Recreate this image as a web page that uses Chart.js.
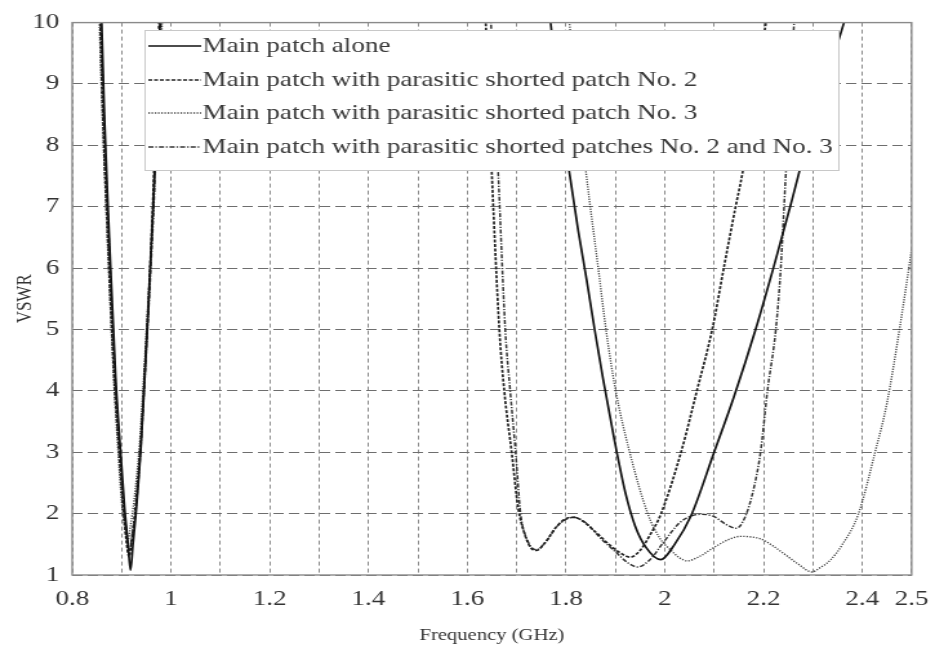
<!DOCTYPE html>
<html>
<head>
<meta charset="utf-8">
<script src="https://cdn.jsdelivr.net/npm/chart.js@4.4.1/dist/chart.umd.min.js"></script>
<style>
  html, body { margin: 0; padding: 0; background: #fff; }
</style>
</head>
<body>
<!-- drawn 732 wide and shown stretched to 944, like the printed figure -->
<canvas id="canvas" width="732" height="653" style="display:block;width:944px;height:653px"></canvas>
<script>
// VSWR vs frequency, four antenna configurations (null splits the two bands)
const freqAlone = [0.858, 0.865, 0.875, 0.888, 0.898, 0.906, 0.913, 0.918, 0.923, 0.930, 0.940, 0.952, 0.965, 0.980, null,
  1.762, 1.790, 1.808, 1.825, 1.842, 1.858, 1.875, 1.898, 1.920, 1.940, 1.962, 1.992, 2.020, 2.053, 2.100, 2.140, 2.184,
  2.220, 2.254, 2.300, 2.363, 2.380];
const vswrAlone = [10.5, 8.5, 6.5, 4.2, 3.0, 2.1, 1.5, 1.08, 1.5, 2.1, 3.2, 5.0, 7.2, 10.5, null,
  10.5, 8.5, 7.5, 6.6, 5.8, 5.0, 4.2, 3.2, 2.35, 1.8, 1.45, 1.25, 1.5, 1.96, 3.0, 3.9, 5.0,
  6.0, 7.0, 8.4, 10.0, 10.5];

const freqNo2 = [0.855, 0.862, 0.872, 0.885, 0.895, 0.903, 0.909, 0.915, 0.921, 0.928, 0.938, 0.950, 0.962, 0.978, null,
  1.635, 1.650, 1.665, 1.675, 1.690, 1.703, 1.715, 1.728, 1.740, 1.755, 1.780, 1.800, 1.815, 1.830, 1.860, 1.890, 1.912, 1.930,
  1.950, 1.970, 1.992, 2.033, 2.066, 2.097, 2.120, 2.144, 2.157, 2.180, 2.205, 2.215];
const vswrNo2 = [10.5, 8.5, 6.5, 4.2, 3.0, 2.1, 1.6, 1.3, 1.6, 2.1, 3.1, 4.8, 6.8, 10.5, null,
  10.5, 7.5, 5.0, 4.0, 3.0, 2.1, 1.7, 1.45, 1.40, 1.5, 1.78, 1.92, 1.94, 1.9, 1.7, 1.48, 1.35, 1.29,
  1.4, 1.65, 1.99, 3.0, 4.03, 5.03, 6.02, 7.02, 7.53, 8.7, 10.0, 10.5];

const freqNo3 = [0.853, 0.861, 0.871, 0.884, 0.893, 0.900, 0.906, 0.912, 0.918, 0.925, 0.936, 0.949, 0.963, 0.985, null,
  1.800, 1.841, 1.865, 1.881, 1.900, 1.929, 1.966, 1.990, 2.013, 2.030, 2.046, 2.070, 2.100, 2.130, 2.154, 2.175, 2.194,
  2.220, 2.241, 2.270, 2.298, 2.315, 2.335, 2.360, 2.392, 2.426, 2.450, 2.476, 2.500];
const vswrNo3 = [10.5, 8.5, 6.5, 4.2, 3.0, 2.2, 1.8, 1.55, 1.8, 2.2, 3.1, 4.8, 6.8, 10.5, null,
  10.5, 7.53, 6.02, 5.0, 4.03, 3.0, 1.99, 1.6, 1.4, 1.28, 1.23, 1.3, 1.45, 1.58, 1.63, 1.62, 1.59,
  1.47, 1.35, 1.18, 1.05, 1.12, 1.24, 1.5, 1.99, 3.0, 3.8, 5.03, 6.3];

const freqNo23 = [0.856, 0.864, 0.874, 0.887, 0.896, 0.904, 0.910, 0.916, 0.922, 0.929, 0.939, 0.951, 0.964, 0.982, null,
  1.645, 1.663, 1.677, 1.687, 1.698, 1.708, 1.720, 1.740, 1.760, 1.785, 1.815, 1.840, 1.870, 1.900, 1.925, 1.945, 1.970,
  1.999, 2.030, 2.053, 2.075, 2.100, 2.125, 2.145, 2.163, 2.180, 2.194, 2.208, 2.225, 2.235, 2.245, 2.255, 2.262, 2.270];
const vswrNo23 = [10.5, 8.5, 6.5, 4.2, 3.0, 2.1, 1.7, 1.4, 1.7, 2.1, 3.1, 4.8, 6.8, 10.5, null,
  10.5, 7.5, 5.0, 4.0, 3.0, 2.0, 1.6, 1.41, 1.55, 1.82, 1.94, 1.85, 1.6, 1.38, 1.2, 1.13, 1.25,
  1.55, 1.85, 1.96, 1.99, 1.95, 1.82, 1.76, 1.95, 2.4, 3.0, 4.0, 5.0, 6.0, 7.5, 8.8, 10.0, 10.5];

const seriesNames = [
  'Main patch alone',
  'Main patch with parasitic shorted patch No. 2',
  'Main patch with parasitic shorted patch No. 3',
  'Main patch with parasitic shorted patches No. 2 and No. 3'
];

const xLabelTicks = [0.8, 1, 1.2, 1.4, 1.6, 1.8, 2, 2.2, 2.4, 2.5];

const serif = "'Liberation Serif', 'DejaVu Serif', serif";

function pts(xs, ys) {
  return xs.map((x, i) => x === null ? { x: 1.3, y: null } : { x: x, y: ys[i] });
}

const lineStyles = [
  { color: '#111', width: 1.7, dash: [] },
  { color: '#222', width: 1.7, dash: [3, 1.5] },
  { color: '#444', width: 1.4, dash: [1.2, 1.3] },
  { color: '#333', width: 1.5, dash: [4, 1.5, 1.2, 1.5] }
];

const dataSets = [
  pts(freqAlone, vswrAlone),
  pts(freqNo2, vswrNo2),
  pts(freqNo3, vswrNo3),
  pts(freqNo23, vswrNo23)
].map((d, i) => ({
  label: seriesNames[i],
  data: d,
  showLine: true,
  borderColor: lineStyles[i].color,
  borderWidth: lineStyles[i].width,
  borderDash: lineStyles[i].dash,
  pointRadius: 0,
  cubicInterpolationMode: 'monotone',
  spanGaps: false
}));

// box around the plot plus the in-plot legend
const frameAndLegend = {
  id: 'frameAndLegend',
  afterDatasetsDraw(chart) {
    const { ctx, chartArea: a } = chart;
    ctx.save();
    ctx.strokeStyle = '#8a8a8a';
    ctx.lineWidth = 1.4;
    ctx.setLineDash([]);
    ctx.strokeRect(a.left, a.top, a.right - a.left, a.bottom - a.top);

    const bx = 112, by = 30, bw = 538, bh = 140;
    ctx.fillStyle = '#fff';
    ctx.fillRect(bx, by, bw, bh);
    ctx.strokeStyle = '#c8c8c8';
    ctx.lineWidth = 1;
    ctx.strokeRect(bx + 0.5, by + 0.5, bw, bh);

    ctx.font = "21px " + serif;
    ctx.textBaseline = 'middle';
    ctx.fillStyle = '#3a3a3a';
    const rows = [46, 80, 113, 147];
    chart.data.datasets.forEach((ds, i) => {
      const y = rows[i];
      ctx.beginPath();
      ctx.strokeStyle = ds.borderColor;
      ctx.lineWidth = ds.borderWidth;
      ctx.setLineDash(ds.borderDash);
      ctx.moveTo(115, y);
      ctx.lineTo(156, y);
      ctx.stroke();
      ctx.setLineDash([]);
      ctx.fillText(ds.label, 157, y);
    });
    ctx.restore();
  }
};

new Chart(document.getElementById('canvas'), {
  type: 'scatter',
  data: { datasets: dataSets },
  options: {
    responsive: false,
    animation: false,
    layout: { padding: { top: 16, right: 22, left: 0, bottom: 0 } },
    plugins: { legend: { display: false }, tooltip: { enabled: false } },
    scales: {
      x: {
        type: 'linear',
        min: 0.8,
        max: 2.5,
        afterBuildTicks(scale) {
          const t = [];
          for (let k = 8; k <= 25; k++) t.push({ value: k / 10 });
          scale.ticks = t;
        },
        afterFit(scale) { scale.height = 78; },
        ticks: {
          autoSkip: false,
          maxRotation: 0,
          padding: 12,
          color: '#333',
          font: { family: serif, size: 21 },
          callback(v) {
            const r = Math.round(v * 10) / 10;
            return xLabelTicks.some(t => Math.abs(t - r) < 1e-6) ? String(r) : '';
          }
        },
        grid: {
          color: '#8c8c8c',
          lineWidth: 1,
          drawTicks: false
        },
        border: { display: false, dash: [4, 3] },
        title: {
          display: true,
          text: 'Frequency (GHz)',
          color: '#333',
          font: { family: serif, size: 16 },
          padding: { top: 0, bottom: 8 }
        }
      },
      y: {
        min: 1,
        max: 10,
        afterFit(scale) { scale.width = 56; },
        ticks: {
          stepSize: 1,
          padding: 10,
          color: '#333',
          font: { family: serif, size: 21 }
        },
        grid: {
          color: '#6e6e6e',
          lineWidth: 1,
          drawTicks: false
        },
        border: { display: false, dash: [8, 4] },
        title: {
          display: true,
          text: 'VSWR',
          color: '#333',
          font: { family: serif, size: 17 },
          padding: { top: 9, bottom: 0 }
        }
      }
    }
  },
  plugins: [frameAndLegend]
});
</script>
</body>
</html>
